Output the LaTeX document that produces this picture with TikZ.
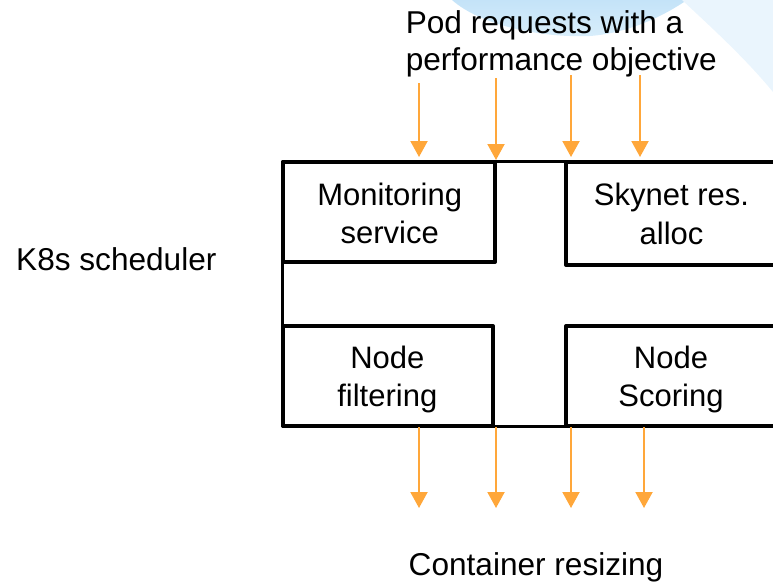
\documentclass[tikz,border=0pt]{standalone}
\usepackage{fontspec}
\setmainfont{Liberation Sans}
\usetikzlibrary{arrows.meta}
\definecolor{flow}{HTML}{FFA73A}
\definecolor{swooshtop}{HTML}{C4E3F8}
\definecolor{swooshbot}{HTML}{D9EEFB}
\definecolor{swooshlight}{HTML}{EAF5FD}
\begin{document}
\begin{tikzpicture}[x=1pt,y=-1pt,
  txt/.style={font=\fontsize{31}{37}\selectfont, inner sep=0pt, anchor=base},
  outer/.style={txt, font=\fontsize{31.6}{37}\selectfont, anchor=base west},
  frameline/.style={line width=3pt, line join=round},
  box/.style={draw, line width=4pt, rectangle, inner sep=0pt, line join=round},
  flowarrow/.style={draw=flow, line width=2pt, -{Triangle[width=17pt,length=16pt]}}]
\useasboundingbox (0,0) rectangle (773,582);
\clip (0,0) rectangle (773,582);

% decorative background swooshes
\shade[top color=swooshtop, bottom color=swooshbot]
  (452,0) .. controls (480,25) and (540,38) .. (590,36)
  .. controls (630,33) and (665,15) .. (687,0) -- cycle;
\fill[swooshlight] (682,0) .. controls (712,28) and (745,58) .. (773,92)
  -- (773,0) -- cycle;

% scheduler frame
\draw[frameline] (800,161) -- (282,161) -- (282,426) -- (800,426);

% scheduler components
\node[box, minimum width=212pt, minimum height=100pt] (mon) at (389,212) {};
\node[box, minimum width=234pt, minimum height=103pt] (sky) at (683,213.5) {};
\node[box, minimum width=210pt, minimum height=100pt] (fil) at (388,376) {};
\node[box, minimum width=234pt, minimum height=100pt] (sco) at (683,376) {};

% labels
\node[outer] (pod1) at (405.6,33.3) {Pod requests with a};
\node[outer] (pod2) at (405.6,70.7) {performance objective};
\node[txt] (mon1) at (389.7,205) {Monitoring};
\node[txt] (mon2) at (389.7,243.3) {service};
\node[txt] (sky1) at (671.5,205.3) {Skynet res.};
\node[txt] (sky2) at (671.5,244.3) {alloc};
\node[txt] (fil1) at (387.3,368.3) {Node};
\node[txt] (fil2) at (387.3,406.7) {filtering};
\node[txt] (sco1) at (671,368.3) {Node};
\node[txt] (sco2) at (671,406.7) {Scoring};
\node[outer] (k8s) at (16,270.7) {K8s scheduler};
\node[outer] (out) at (408.5,575) {Container resizing};

% incoming pod requests
\coordinate (ia) at (419,83);  \coordinate (ta) at (419,157);
\coordinate (ib) at (496,78);  \coordinate (tb) at (496,160);
\coordinate (ic) at (571,75);  \coordinate (tc) at (571,157);
\coordinate (id) at (640,75);  \coordinate (td) at (640,157);
\draw[flowarrow] (ia) -- (ta);
\draw[flowarrow] (ib) -- (tb);
\draw[flowarrow] (ic) -- (tc);
\draw[flowarrow] (id) -- (td);

% outgoing resize actions
\coordinate (oa) at (419,427); \coordinate (ea) at (419,508);
\coordinate (ob) at (496,427); \coordinate (eb) at (496,508);
\coordinate (oc) at (571,427); \coordinate (ec) at (571,508);
\coordinate (od) at (644,427); \coordinate (ed) at (644,508);
\draw[flowarrow] (oa) -- (ea);
\draw[flowarrow] (ob) -- (eb);
\draw[flowarrow] (oc) -- (ec);
\draw[flowarrow] (od) -- (ed);
\end{tikzpicture}
\end{document}
